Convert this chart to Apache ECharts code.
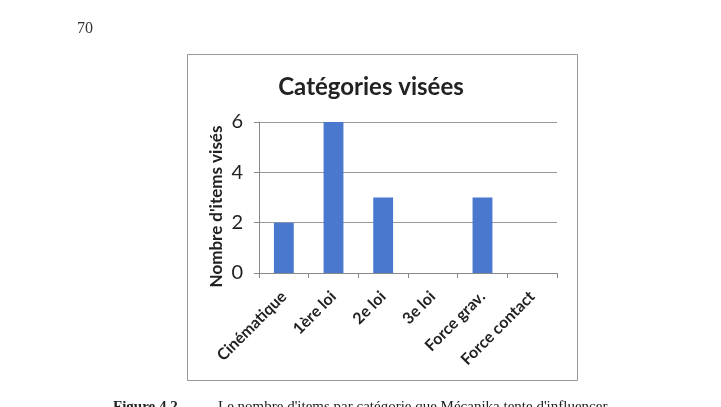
<!DOCTYPE html>
<html>
<head>
<meta charset="utf-8">
<script src="https://cdn.jsdelivr.net/npm/echarts@6/dist/echarts.min.js"></script>
<style>
html,body{margin:0;padding:0;background:#fff;}
#c{width:721px;height:407px;}
</style>
</head>
<body>
<div id="c"></div>
<script>
var categories = ['Cinématique', '1ère loi', '2e loi', '3e loi', 'Force grav.', 'Force contact'];
var values = [2, 6, 3, 0, 3, 0];
var yTicks = [0, 2, 4, 6];
var titleText = 'Catégories visées';
var yName = "Nombre d'items visés";
var pageNumber = '70';
var captionLabel = 'Figure 4.2';
var captionText = "Le nombre d'items par catégorie que Mécanika tente d'influencer.";

var chart = echarts.init(document.getElementById('c'), null, {renderer: 'canvas'});
chart.setOption({
  animation: false,
  backgroundColor: '#fff',
  title: {
    text: titleText,
    left: 366, top: 70, textAlign: 'center',
    textStyle: {fontFamily: 'Lato', fontWeight: 'bold', fontSize: 24, color: '#222'}
  },
  grid: {left: 259, right: 164, top: 122, bottom: 134, containLabel: false},
  xAxis: {
    type: 'category',
    data: categories,
    axisLine: {lineStyle: {color: '#888', width: 1}},
    axisTick: {show: true, length: 5, alignWithLabel: false, lineStyle: {color: '#888'}},
    axisLabel: {interval: 0, rotate: 45, margin: 21, fontFamily: 'Lato', fontWeight: 'bold', fontSize: 16, color: '#222'}
  },
  yAxis: {
    type: 'value',
    min: yTicks[0], max: yTicks[yTicks.length - 1], interval: 2,
    name: yName,
    nameLocation: 'middle',
    nameGap: 34,
    nameTextStyle: {fontFamily: 'Lato', fontWeight: 'bold', fontSize: 17, color: '#222', padding: [0, 0, 0, -18]},
    axisLine: {show: true, lineStyle: {color: '#888'}},
    axisTick: {show: true, length: 5, lineStyle: {color: '#888'}},
    axisLabel: {margin: 16, fontFamily: 'Lato', fontSize: 20, color: '#222'},
    splitLine: {lineStyle: {color: '#999', width: 1}}
  },
  series: [{
    type: 'bar',
    data: values,
    barWidth: '40%',
    itemStyle: {color: '#4a78cf'}
  }],
  graphic: [
    {type: 'rect', shape: {x: 187.5, y: 54.5, width: 390, height: 326}, style: {fill: 'none', stroke: '#999', lineWidth: 1}, z: -1},
    {type: 'text', left: 77, top: 21, style: {text: pageNumber, font: '16px "Liberation Serif"', fill: '#333'}},
    {type: 'text', left: 113, top: 400, style: {text: captionLabel, font: 'bold 15px "Liberation Serif"', fill: '#222'}},
    {type: 'text', left: 218, top: 400, style: {text: captionText, font: '15px "Liberation Serif"', fill: '#222'}}
  ]
});
</script>
</body>
</html>
